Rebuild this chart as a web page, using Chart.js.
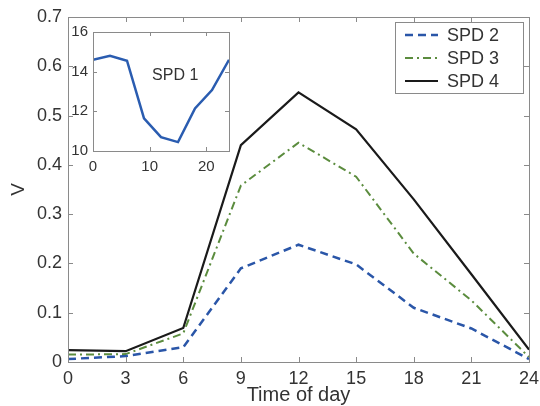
<!DOCTYPE html>
<html>
<head>
<meta charset="utf-8">
<script src="https://cdn.jsdelivr.net/npm/chart.js@4"></script>
<style>
  html, body { margin: 0; padding: 0; background: #fff; }
  #wrap { position: relative; width: 540px; height: 406px; }
  #main { position: absolute; left: 0; top: 0; }
  #inset { position: absolute; left: 60px; top: 20px; }
</style>
</head>
<body>
<div id="wrap">
  <canvas id="main" width="540" height="406"></canvas>
  <canvas id="inset" width="180" height="160"></canvas>
</div>
<script>
// hours of day
const hours = [0, 3, 6, 9, 12, 15, 18, 21, 24];
const spd2 = [0.006, 0.012, 0.03, 0.19, 0.238, 0.198, 0.11, 0.068, 0.006];
const spd3 = [0.015, 0.016, 0.058, 0.358, 0.445, 0.376, 0.22, 0.125, 0.01];
const spd4 = [0.024, 0.022, 0.069, 0.44, 0.547, 0.472, 0.33, 0.178, 0.025];
const spd1 = [14.6, 14.8, 14.55, 11.65, 10.7, 10.45, 12.15, 13.07, 14.6];
const mainYTicks = [0, 0.1, 0.2, 0.3, 0.4, 0.5, 0.6, 0.7];
const insetXTicks = [0, 10, 20];
const insetYTicks = [10, 12, 14, 16];

const textColor = "#333";
const boxColor = "#8a8a8a";
const fontFamily = "'Liberation Sans', Arial, sans-serif";

// matlab style box with inward ticks
const boxPlugin = {
  id: "box",
  afterDraw(chart, args, opts) {
    const ctx = chart.ctx;
    const a = chart.chartArea;
    const len = opts.len || 5;
    ctx.save();
    ctx.strokeStyle = boxColor;
    ctx.lineWidth = 1;
    ctx.strokeRect(a.left + 0.5, a.top + 0.5, a.right - a.left, a.bottom - a.top);
    ctx.beginPath();
    chart.scales.x.ticks.forEach(t => {
      const px = Math.round(chart.scales.x.getPixelForValue(t.value)) + 0.5;
      ctx.moveTo(px, a.bottom); ctx.lineTo(px, a.bottom - len);
      ctx.moveTo(px, a.top); ctx.lineTo(px, a.top + len);
    });
    chart.scales.y.ticks.forEach(t => {
      const py = Math.round(chart.scales.y.getPixelForValue(t.value)) + 0.5;
      ctx.moveTo(a.left, py); ctx.lineTo(a.left + len, py);
      ctx.moveTo(a.right, py); ctx.lineTo(a.right - len, py);
    });
    ctx.stroke();
    ctx.restore();
  }
};

// legend box in the upper right corner
const legendPlugin = {
  id: "boxLegend",
  afterDraw(chart) {
    const ctx = chart.ctx;
    const x0 = 395, y0 = 22, w = 128, h = 71;
    ctx.save();
    ctx.fillStyle = "#fff";
    ctx.fillRect(x0, y0, w, h);
    ctx.strokeStyle = boxColor;
    ctx.lineWidth = 1;
    ctx.strokeRect(x0 + 0.5, y0 + 0.5, w, h);
    ctx.font = "18px " + fontFamily;
    ctx.textBaseline = "middle";
    chart.data.datasets.forEach((ds, i) => {
      const y = y0 + 13 + i * 23;
      ctx.strokeStyle = ds.borderColor;
      ctx.lineWidth = ds.borderWidth;
      ctx.setLineDash(ds.borderDash || []);
      ctx.beginPath();
      ctx.moveTo(x0 + 10, y); ctx.lineTo(x0 + 43, y);
      ctx.stroke();
      ctx.setLineDash([]);
      ctx.fillStyle = textColor;
      ctx.fillText(ds.label, x0 + 52, y + 1);
    });
    ctx.restore();
  }
};

const insetLabel = {
  id: "insetLabel",
  afterDraw(chart) {
    const ctx = chart.ctx;
    ctx.save();
    ctx.font = "16px " + fontFamily;
    ctx.fillStyle = textColor;
    ctx.textAlign = "center";
    ctx.textBaseline = "middle";
    ctx.fillText("SPD 1", chart.scales.x.getPixelForValue(14.5), chart.scales.y.getPixelForValue(13.8));
    ctx.restore();
  }
};

new Chart(document.getElementById("main"), {
  type: "line",
  data: {
    datasets: [
      { label: "SPD 2", data: hours.map((h, i) => ({ x: h, y: spd2[i] })), borderColor: "#2a56a8", borderWidth: 2.5, borderDash: [8, 5] },
      { label: "SPD 3", data: hours.map((h, i) => ({ x: h, y: spd3[i] })), borderColor: "#5b8c3e", borderWidth: 2, borderDash: [8, 4, 2, 4] },
      { label: "SPD 4", data: hours.map((h, i) => ({ x: h, y: spd4[i] })), borderColor: "#1a1a1a", borderWidth: 2.2 }
    ]
  },
  options: {
    responsive: false,
    animation: false,
    elements: { point: { radius: 0 }, line: { tension: 0 } },
    layout: { padding: { left: 0, right: 11, top: 17, bottom: 0 } },
    plugins: { legend: { display: false }, tooltip: { enabled: false }, box: { len: 5 } },
    scales: {
      x: {
        type: "linear", min: 0, max: 24,
        afterBuildTicks: s => { s.ticks = hours.map(v => ({ value: v })); },
        afterFit: s => { s.height = 44; s.paddingLeft = 0; s.paddingRight = 0; },
        grid: { display: false, drawTicks: false }, border: { display: false },
        ticks: { color: textColor, font: { size: 18, family: fontFamily, lineHeight: 1 }, padding: 8, maxRotation: 0 },
        title: { display: true, text: "Time of day", color: textColor, font: { size: 20, family: fontFamily, lineHeight: 1 }, padding: { top: 0, bottom: 1 } }
      },
      y: {
        type: "linear", min: 0, max: 0.7,
        afterBuildTicks: s => { s.ticks = mainYTicks.map(v => ({ value: v })); },
        afterFit: s => { s.width = 68; s.paddingTop = 0; s.paddingBottom = 0; },
        grid: { display: false, drawTicks: false }, border: { display: false },
        ticks: { color: textColor, font: { size: 18, family: fontFamily }, padding: 6, callback: v => String(v) },
        title: { display: true, text: "V", color: textColor, font: { size: 19, family: fontFamily, lineHeight: 1 }, padding: { top: 9, bottom: 0 } }
      }
    }
  },
  plugins: [boxPlugin, legendPlugin]
});

new Chart(document.getElementById("inset"), {
  type: "line",
  data: {
    datasets: [
      { label: "SPD 1", data: hours.map((h, i) => ({ x: h, y: spd1[i] })), borderColor: "#2a5cb0", borderWidth: 2.5 }
    ]
  },
  options: {
    responsive: false,
    animation: false,
    elements: { point: { radius: 0 }, line: { tension: 0 } },
    layout: { padding: { left: 0, right: 11, top: 12, bottom: 0 } },
    plugins: { legend: { display: false }, tooltip: { enabled: false }, box: { len: 4 } },
    scales: {
      x: {
        type: "linear", min: 0, max: 24,
        afterBuildTicks: s => { s.ticks = insetXTicks.map(v => ({ value: v })); },
        afterFit: s => { s.height = 29; s.paddingLeft = 0; s.paddingRight = 0; },
        grid: { display: false, drawTicks: false }, border: { display: false },
        ticks: { color: textColor, font: { size: 15, family: fontFamily, lineHeight: 1 }, padding: 8, maxRotation: 0 }
      },
      y: {
        type: "linear", min: 10, max: 16,
        afterBuildTicks: s => { s.ticks = insetYTicks.map(v => ({ value: v })); },
        afterFit: s => { s.width = 33; s.paddingTop = 0; s.paddingBottom = 0; },
        grid: { display: false, drawTicks: false }, border: { display: false },
        ticks: { color: textColor, font: { size: 15, family: fontFamily }, padding: 5 }
      }
    }
  },
  plugins: [boxPlugin, insetLabel]
});
</script>
</body>
</html>
